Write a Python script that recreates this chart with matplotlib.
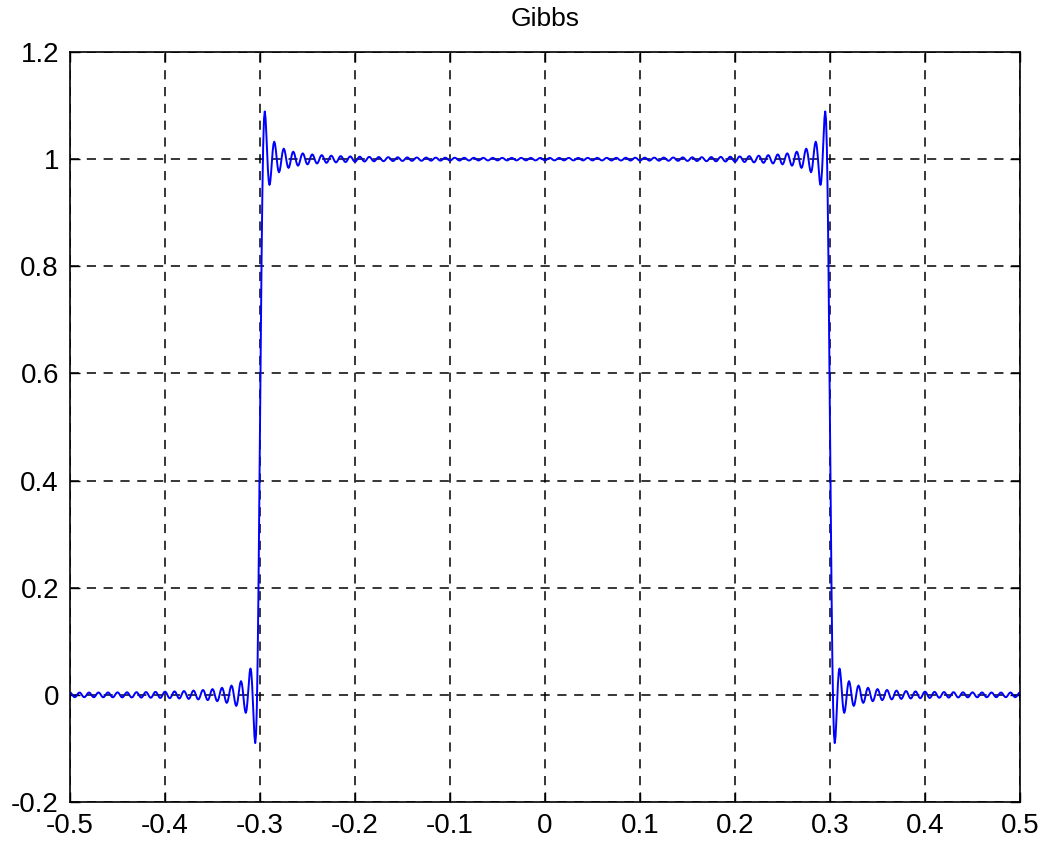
import matplotlib
matplotlib.use("Agg")
import matplotlib.pyplot as plt
import numpy as np

# square pulse on one period [-0.5, 0.5] and its truncated Fourier series
pulse_left = -0.3
pulse_right = 0.3
pulse_height = 1.0
n_harmonics = 100
n_samples = 1201

xticks = [-0.5, -0.4, -0.3, -0.2, -0.1, 0, 0.1, 0.2, 0.3, 0.4, 0.5]
xlabels = ['-0.5', '-0.4', '-0.3', '-0.2', '-0.1', '0', '0.1', '0.2', '0.3', '0.4', '0.5']
yticks = [-0.2, 0, 0.2, 0.4, 0.6, 0.8, 1, 1.2]
ylabels = ['-0.2', '0', '0.2', '0.4', '0.6', '0.8', '1', '1.2']

# partial sum of the pulse's Fourier series (shows the Gibbs ringing)
x = np.linspace(-0.5, 0.5, n_samples)
width = pulse_right - pulse_left
center = (pulse_right + pulse_left) / 2
y = np.full_like(x, pulse_height * width)
for k in range(1, n_harmonics + 1):
    ck = 2 * pulse_height * np.sin(np.pi * k * width) / (np.pi * k)
    y += ck * np.cos(2 * np.pi * k * (x - center))

plt.rcParams['font.family'] = ['Liberation Sans', 'DejaVu Sans']

fig = plt.figure(figsize=(10.43, 8.42), dpi=100)
ax = fig.add_axes([70 / 1043, 40 / 842, 950 / 1043, 750 / 842])

ax.plot(x, y, color=(0, 0, 1), linewidth=1.4)

ax.set_xlim(-0.5, 0.5)
ax.set_ylim(-0.2, 1.2)
ax.set_xticks(xticks)
ax.set_xticklabels(xlabels)
ax.set_yticks(yticks)
ax.set_yticklabels(ylabels)
ax.tick_params(direction='in', length=7, width=1, labelsize=20,
               top=True, right=True, colors='black')
ax.tick_params(axis='x', pad=8)
ax.tick_params(axis='y', pad=8)
ax.grid(True, color='black', linestyle=(0, (6, 5)), linewidth=1.1)
for s in ax.spines.values():
    s.set_linewidth(1.2)
    s.set_color('black')

ax.set_title('Gibbs', fontsize=19, pad=19)

fig.savefig('out.png', dpi=100)
